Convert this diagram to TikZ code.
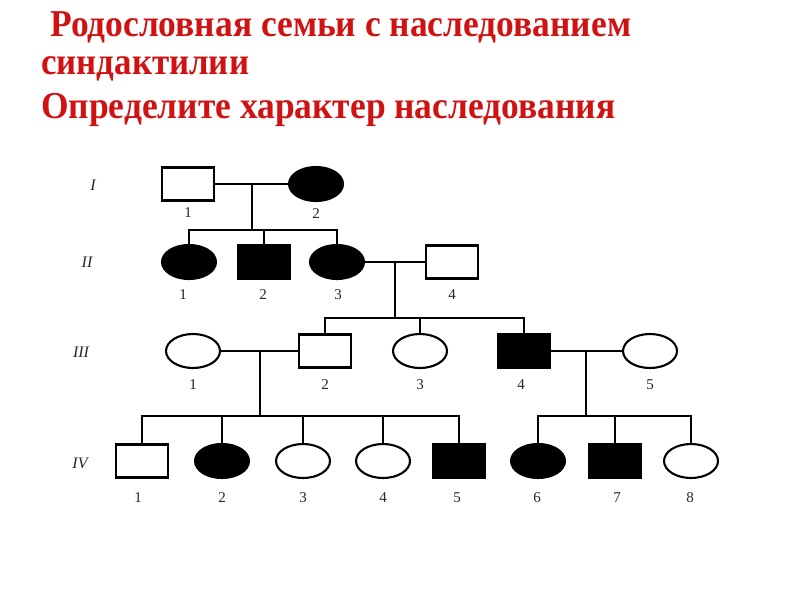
\documentclass[tikz,border=0pt]{standalone}
\usepackage{fontspec}
\usepackage{graphicx}
\setmainfont{Liberation Serif}
\usetikzlibrary{shapes.geometric}
\definecolor{titlered}{RGB}{208,18,18}
\begin{document}
\begin{tikzpicture}[x=1pt,y=-1pt,
  male/.style={draw, rectangle, line width=2.1pt, minimum width=52pt, minimum height=33pt, inner sep=0pt},
  female/.style={draw, ellipse, line width=2.1pt, minimum width=54pt, minimum height=34pt, inner sep=0pt},
  aff/.style={fill=black},
  link/.style={line width=2.1pt},
  num/.style={font=\fontsize{15}{15}\selectfont, inner sep=0pt, text=black!85},
  gen/.style={font=\itshape\fontsize{16}{16}\selectfont, inner sep=0pt, text=black!85},
  ttl/.style={anchor=base west, inner sep=0pt, text=titlered, font=\bfseries\fontsize{38}{42}\selectfont}]
\useasboundingbox (0,0) rectangle (800,600);
\fill[white] (0,0) rectangle (800,600);

% title
\node[ttl] (t1) at (50,36) {\resizebox{581pt}{\height}{Родословная семьи с наследованием}};
\node[ttl] (t2) at (41,74) {\resizebox{208pt}{\height}{синдактилии}};
\node[ttl] (t3) at (41,118) {\resizebox{574pt}{\height}{Определите характер наследования}};

% generation numerals
\node[gen] (gI) at (93,185) {I};
\node[gen] (gII) at (87,262) {II};
\node[gen] (gIII) at (81,352) {III};
\node[gen] (gIV) at (80,463) {IV};

% generation I
\node[male] (I1) at (188,184) {};
\node[female,aff] (I2) at (316,184) {};
% generation II
\node[female,aff] (II1) at (189,262) {};
\node[male,aff] (II2) at (264,262) {};
\node[female,aff] (II3) at (337,262) {};
\node[male] (II4) at (452,262) {};
% generation III
\node[female] (III1) at (193,351) {};
\node[male] (III2) at (325,351) {};
\node[female] (III3) at (420,351) {};
\node[male,aff] (III4) at (524,351) {};
\node[female] (III5) at (650,351) {};
% generation IV
\node[male] (IV1) at (142,461) {};
\node[female,aff] (IV2) at (222,461) {};
\node[female] (IV3) at (303,461) {};
\node[female] (IV4) at (383,461) {};
\node[male,aff] (IV5) at (459,461) {};
\node[female,aff] (IV6) at (538,461) {};
\node[male,aff] (IV7) at (615,461) {};
\node[female] (IV8) at (691,461) {};

% junctions
\coordinate (mI) at (252,184);
\coordinate (sI) at (252,230);
\coordinate (mII) at (395,262);
\coordinate (sII) at (395,318);
\coordinate (mIIIa) at (260,351);
\coordinate (sIIIa) at (260,416);
\coordinate (mIIIb) at (586,351);
\coordinate (sIIIb) at (586,416);

% connectors
\draw[link] (I1.east) -- (I2.west);
\draw[link] (mI) -- (sI);
\draw[link] (II1.north) |- (II3.north |- sI) -- (II3.north);
\draw[link] (II2.north) -- (II2.north |- sI);

\draw[link] (II3.east) -- (II4.west);
\draw[link] (mII) -- (sII);
\draw[link] (III2.north) |- (III4.north |- sII) -- (III4.north);
\draw[link] (III3.north) -- (III3.north |- sII);

\draw[link] (III1.east) -- (III2.west);
\draw[link] (mIIIa) -- (sIIIa);
\draw[link] (IV1.north) |- (IV5.north |- sIIIa) -- (IV5.north);
\draw[link] (IV2.north) -- (IV2.north |- sIIIa);
\draw[link] (IV3.north) -- (IV3.north |- sIIIa);
\draw[link] (IV4.north) -- (IV4.north |- sIIIa);

\draw[link] (III4.east) -- (III5.west);
\draw[link] (mIIIb) -- (sIIIb);
\draw[link] (IV6.north) |- (IV8.north |- sIIIb) -- (IV8.north);
\draw[link] (IV7.north) -- (IV7.north |- sIIIb);

% individual numbers
\node[num] (nI1) at (188,213) {1};
\node[num] (nI2) at (316,214) {2};
\node[num] (nII1) at (183,295) {1};
\node[num] (nII2) at (263,295) {2};
\node[num] (nII3) at (338,295) {3};
\node[num] (nII4) at (452,295) {4};
\node[num] (nIII1) at (193,385) {1};
\node[num] (nIII2) at (325,385) {2};
\node[num] (nIII3) at (420,385) {3};
\node[num] (nIII4) at (521,385) {4};
\node[num] (nIII5) at (650,385) {5};
\node[num] (nIV1) at (138,498) {1};
\node[num] (nIV2) at (222,498) {2};
\node[num] (nIV3) at (303,498) {3};
\node[num] (nIV4) at (383,498) {4};
\node[num] (nIV5) at (457,498) {5};
\node[num] (nIV6) at (537,498) {6};
\node[num] (nIV7) at (617,498) {7};
\node[num] (nIV8) at (690,498) {8};
\end{tikzpicture}
\end{document}
